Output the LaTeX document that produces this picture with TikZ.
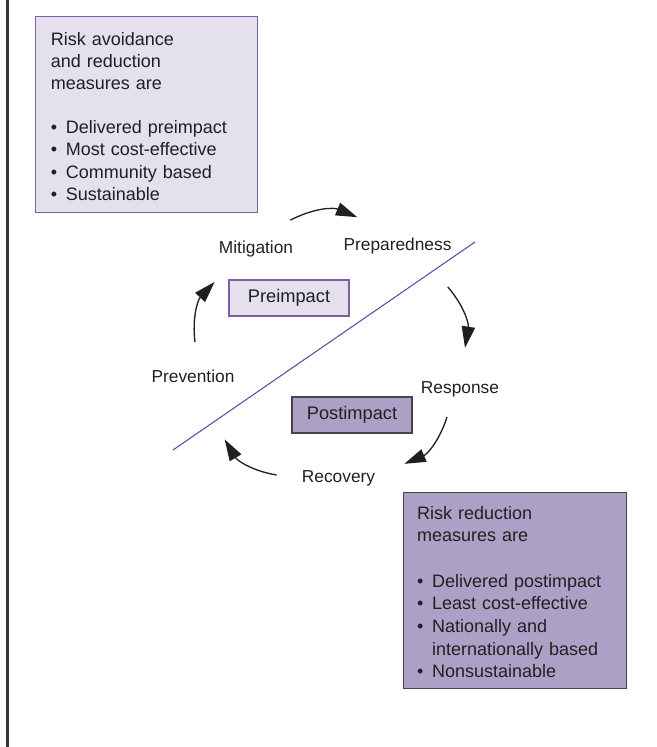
\documentclass[tikz,border=0pt]{standalone}
\usepackage{fontspec}
\setmainfont{Liberation Sans}
\usetikzlibrary{arrows.meta,positioning}
\definecolor{ink}{HTML}{231F20}
\definecolor{lilac}{HTML}{E4E0EE}
\definecolor{mauve}{HTML}{ADA0C6}
\definecolor{violetline}{HTML}{7D5FA5}
\definecolor{divline}{HTML}{6E46A0}
\definecolor{greyline}{HTML}{464646}
\newcommand{\bulit}{\makebox[11.25pt][l]{\textbullet}}
\tikzset{
  stage/.style={inner sep=0pt,anchor=base,text=ink,font=\fontsize{13}{15.6}\selectfont},
  phase/.style={draw,minimum width=90pt,minimum height=27pt,inner sep=0pt,text=ink,font=\fontsize{13.7}{16}\selectfont},
  panel/.style={draw,anchor=north west,minimum width=166.5pt,minimum height=147pt,inner sep=0pt},
  paneltext/.style={anchor=north west,inner sep=0pt,align=left,text width=160pt,text=ink},
  cyc/.style={-{Triangle[length=16pt,width=10pt]},line width=1pt,draw=ink,bend left=25},
}
\begin{document}
\begin{tikzpicture}[x=0.75pt,y=0.75pt]
\useasboundingbox (0,0) rectangle (657,-747);
\draw[line width=2pt,draw=ink!90] (7.3,0) -- (7.3,-747);
\node[panel,fill=lilac,draw=violetline,line width=0.8pt] (avoid) at (35,-16) {};
\node[paneltext,font=\fontsize{13.5}{16.6}\selectfont] (avoidtxt) at ([shift={(15.6,-16)}]avoid.north west)
  {Risk avoidance\\ and reduction\\ measures are\\[16.6pt]
   \bulit Delivered preimpact\\ \bulit Most cost-effective\\ \bulit Community based\\ \bulit Sustainable};
\node[panel,fill=mauve,draw=greyline,line width=1pt,minimum width=167.25pt] (reduce) at (403,-492) {};
\node[paneltext,font=\fontsize{13.5}{17}\selectfont] (reducetxt) at ([shift={(13.8,-14)}]reduce.north west)
  {Risk reduction\\ measures are\\[17pt]
   \bulit Delivered postimpact\\ \bulit Least cost-effective\\ \bulit Nationally and\\ \hspace*{11.25pt}internationally based\\ \bulit Nonsustainable};
\coordinate (d1) at (173,-450);
\coordinate (d2) at (475,-242);
\draw[draw=divline,line width=0.8pt] (d1) -- (d2);
\node[phase,fill=lilac,draw=violetline,line width=0.8pt] (pre) at (289,-298) {Preimpact};
\node[phase,fill=mauve,draw=greyline,line width=0.9pt] (post) at (352,-415) {Postimpact};
\node[stage] (mit) at (256,-253) {Mitigation};
\node[stage] (prep) at (397.5,-250) {Preparedness};
\node[stage] (resp) at (460,-393) {Response};
\node[stage] (rec) at (338.5,-482) {Recovery};
\node[stage] (prev) at (193,-382) {Prevention};
\draw[cyc] ([shift={(-3,20)}]mit.north east) to ([shift={(14,20)}]prep.north west);
\draw[cyc] ([shift={(-4,-33)}]prep.south east) to ([shift={(5,33)}]resp.north);
\draw[cyc] ([shift={(-13,-20)}]resp.south) to ([shift={(29,6)}]rec.north east);
\draw[cyc] ([shift={(-25,7)}]rec.base west) to ([shift={(-10,-57)}]prev.south east);
\draw[cyc] ([shift={(2,27)}]prev.north) to ([shift={(-4,-25)}]mit.south west);
\end{tikzpicture}
\end{document}
